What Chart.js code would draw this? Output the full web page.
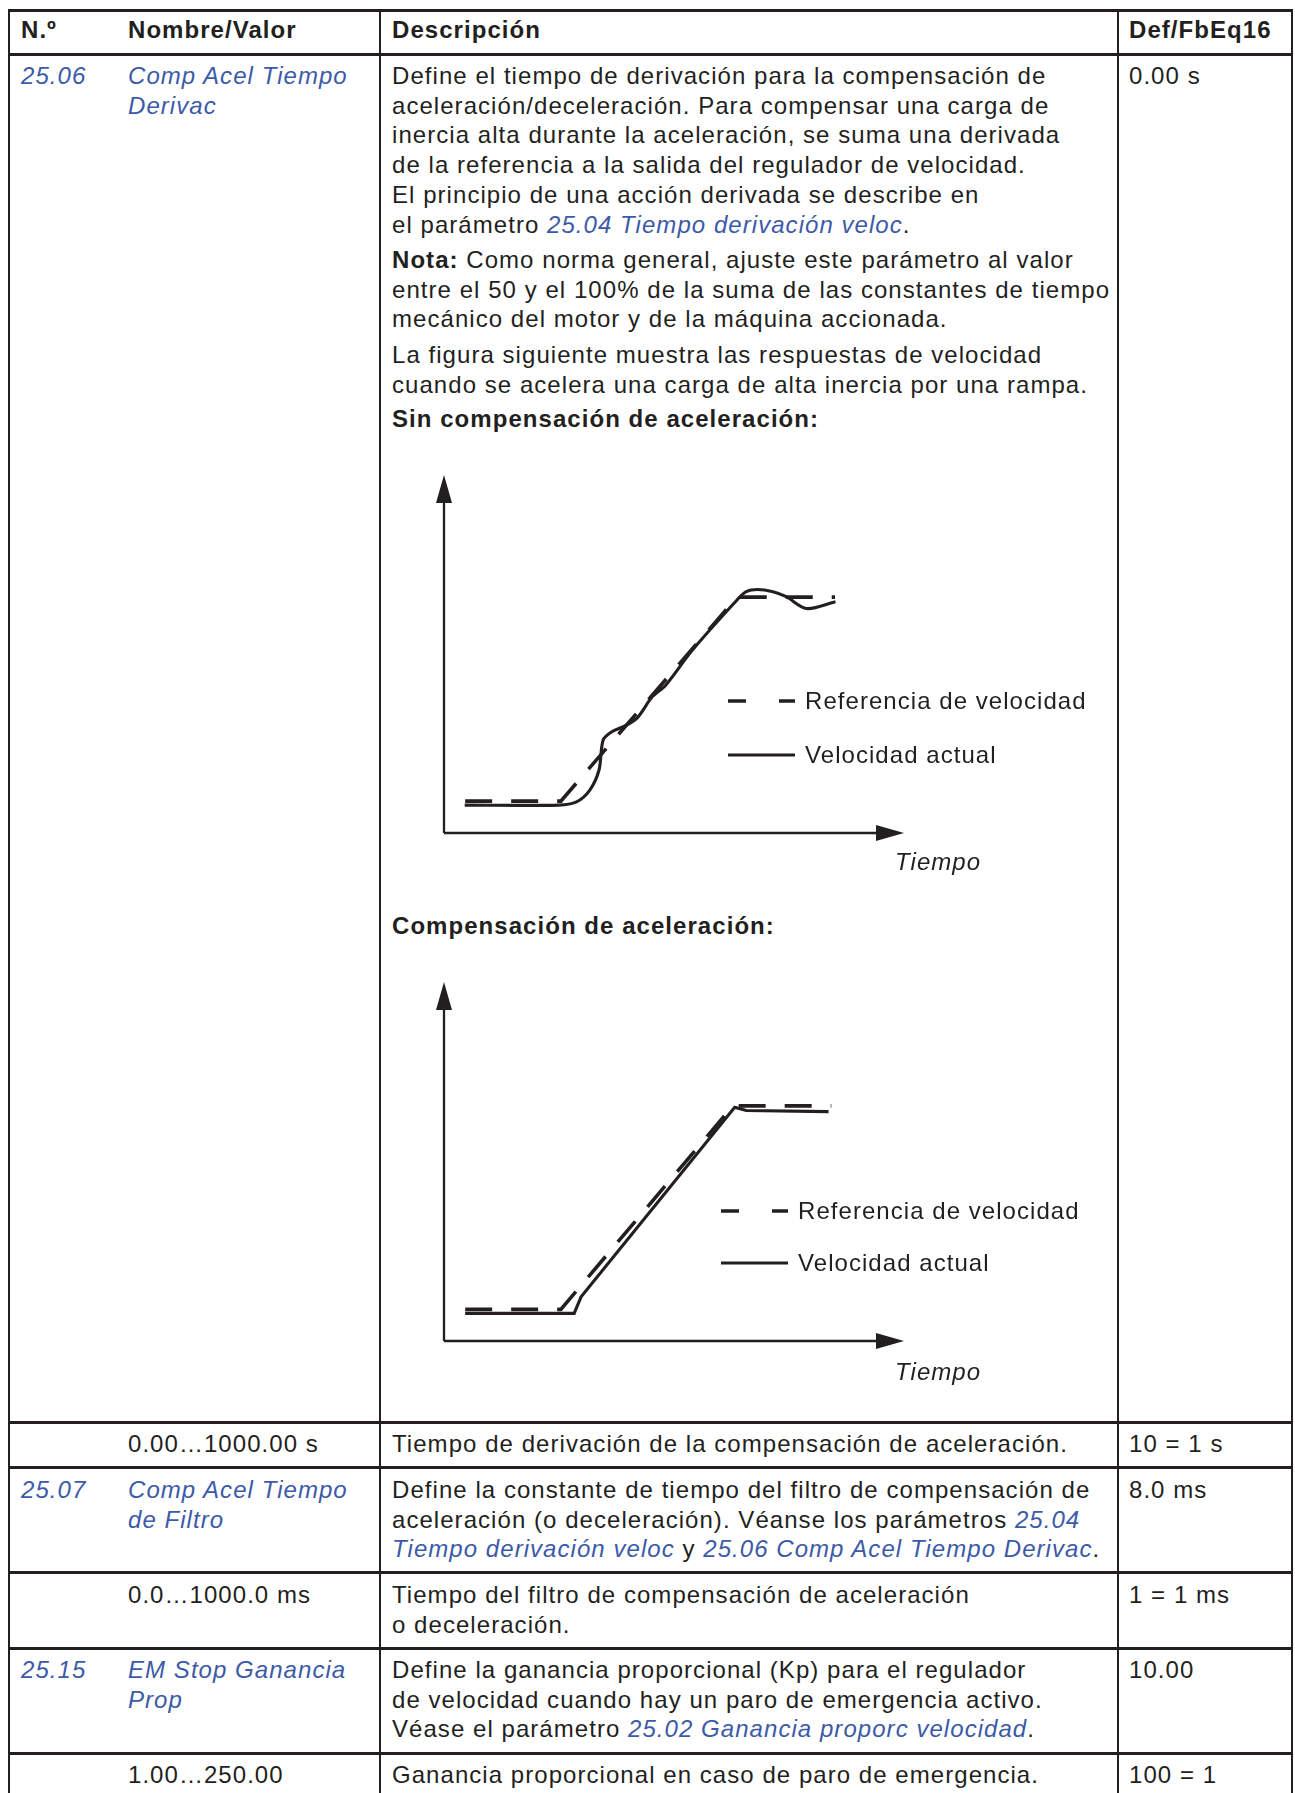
<!DOCTYPE html>
<html>
<head>
<meta charset="utf-8">
<script src="https://cdn.jsdelivr.net/npm/chart.js@4.4.0/dist/chart.umd.min.js"></script>
<style>
  html, body { margin: 0; padding: 0; background: #fff; }
  body { width: 1295px; height: 1793px; position: relative; overflow: hidden;
         font-family: "Liberation Sans", Arial, sans-serif; font-size: 24px;
         letter-spacing: 1.05px; color: #231f20; }
  .t { position: absolute; line-height: 29.8px; white-space: nowrap; }
  .b { font-weight: bold; }
  .lnk, .l { color: #3c5aa8; font-style: italic; }
  .h { position: absolute; left: 8px; width: 1285px; height: 3px; background: #231f20; }
  .v { position: absolute; top: 9px; width: 2px; height: 1784px; background: #231f20; }
  canvas { position: absolute; }
</style>
</head>
<body>

<!-- table rules -->
<div class="h" style="top:9px"></div>
<div class="h" style="top:53px"></div>
<div class="h" style="top:1421px"></div>
<div class="h" style="top:1466px"></div>
<div class="h" style="top:1571px"></div>
<div class="h" style="top:1647px"></div>
<div class="h" style="top:1752px"></div>
<div class="v" style="left:8px"></div>
<div class="v" style="left:379px"></div>
<div class="v" style="left:1117px"></div>
<div class="v" style="left:1291px"></div>

<!-- header -->
<div class="t b" style="left:21px;top:14.8px">N.º</div>
<div class="t b" style="left:128px;top:14.8px">Nombre/Valor</div>
<div class="t b" style="left:392px;top:14.8px">Descripción</div>
<div class="t b" style="left:1129px;top:14.8px">Def/FbEq16</div>

<!-- 25.06 -->
<div class="t l" style="left:21px;top:60.8px">25.06</div>
<div class="t l" style="left:128px;top:60.8px">Comp Acel Tiempo<br>Derivac</div>
<div class="t" style="left:392px;top:60.8px">Define el tiempo de derivación para la compensación de<br>aceleración/deceleración. Para compensar una carga de<br>inercia alta durante la aceleración, se suma una derivada<br>de la referencia a la salida del regulador de velocidad.<br>El principio de una acción derivada se describe en<br>el parámetro <span class="lnk">25.04 Tiempo derivación veloc</span>.</div>
<div class="t" style="left:392px;top:244.8px"><span class="b">Nota:</span> Como norma general, ajuste este parámetro al valor<br>entre el 50 y el 100% de la suma de las constantes de tiempo<br>mecánico del motor y de la máquina accionada.</div>
<div class="t" style="left:392px;top:339.8px">La figura siguiente muestra las respuestas de velocidad<br>cuando se acelera una carga de alta inercia por una rampa.</div>
<div class="t b" style="left:392px;top:403.8px">Sin compensación de aceleración:</div>
<div class="t b" style="left:392px;top:910.8px">Compensación de aceleración:</div>
<div class="t" style="left:1129px;top:60.8px">0.00 s</div>

<canvas id="chart1" width="733" height="450" style="left:383px;top:438px"></canvas>
<canvas id="chart2" width="733" height="450" style="left:383px;top:945px"></canvas>

<!-- 0.00…1000.00 s -->
<div class="t" style="left:128px;top:1428.8px">0.00…1000.00 s</div>
<div class="t" style="left:392px;top:1428.8px">Tiempo de derivación de la compensación de aceleración.</div>
<div class="t" style="left:1129px;top:1428.8px">10 = 1 s</div>

<!-- 25.07 -->
<div class="t l" style="left:21px;top:1474.8px">25.07</div>
<div class="t l" style="left:128px;top:1474.8px">Comp Acel Tiempo<br>de Filtro</div>
<div class="t" style="left:392px;top:1474.8px">Define la constante de tiempo del filtro de compensación de<br>aceleración (o deceleración). Véanse los parámetros <span class="lnk">25.04</span><br><span class="lnk">Tiempo derivación veloc</span> y <span class="lnk">25.06 Comp Acel Tiempo Derivac</span>.</div>
<div class="t" style="left:1129px;top:1474.8px">8.0 ms</div>

<!-- 0.0…1000.0 ms -->
<div class="t" style="left:128px;top:1579.8px">0.0…1000.0 ms</div>
<div class="t" style="left:392px;top:1579.8px">Tiempo del filtro de compensación de aceleración<br>o deceleración.</div>
<div class="t" style="left:1129px;top:1579.8px">1 = 1 ms</div>

<!-- 25.15 -->
<div class="t l" style="left:21px;top:1654.8px">25.15</div>
<div class="t l" style="left:128px;top:1654.8px">EM Stop Ganancia<br>Prop</div>
<div class="t" style="left:392px;top:1654.8px">Define la ganancia proporcional (Kp) para el regulador<br>de velocidad cuando hay un paro de emergencia activo.<br>Véase el parámetro <span class="lnk">25.02 Ganancia proporc velocidad</span>.</div>
<div class="t" style="left:1129px;top:1654.8px">10.00</div>

<!-- 1.00…250.00 -->
<div class="t" style="left:128px;top:1759.8px">1.00…250.00</div>
<div class="t" style="left:392px;top:1759.8px">Ganancia proporcional en caso de paro de emergencia.</div>
<div class="t" style="left:1129px;top:1759.8px">100 = 1</div>

<script>
// series labels
const seriesLabels = ["Referencia de velocidad", "Velocidad actual"];
const xTitle = "Tiempo";

// Sin compensación de aceleración (time and speed in % of axis length)
const refTime1 = [4.6, 25.4, 63.7, 85.0];
const refSpeed1 = [8.9, 8.9, 65.9, 65.9];
const actTime1 = [4.5, 24.9, 28.8, 31.7, 33.7, 34.6, 36.5, 39.0, 41.9, 45.3, 48.2, 54.0, 63.7, 65.7, 68.1, 71.5, 74.4, 78.8, 85.1];
const actSpeed1 = [7.8, 7.8, 8.7, 12.0, 17.6, 26.0, 28.3, 29.7, 32.0, 38.1, 41.3, 51.1, 65.1, 67.4, 68.0, 67.4, 66.0, 62.7, 64.6];

// Compensación de aceleración
const refTime2 = [4.6, 25.4, 62.8, 84.2];
const refSpeed2 = [8.8, 8.8, 65.5, 65.5];
const actTime2 = [4.6, 28.3, 29.8, 63.2, 65.7, 83.6];
const actSpeed2 = [7.7, 7.7, 12.3, 65.1, 64.2, 63.9];

const ink = "#231f20";
const font = '"Liberation Sans", Arial, sans-serif';

function pts(xs, ys) {
  return xs.map((x, i) => ({ x: x, y: ys[i] }));
}

// axes with arrow heads + "Tiempo"
const axisArrows = {
  id: "axisArrows",
  beforeDatasetsDraw(chart, args, opts) {
    const ctx = chart.ctx;
    const a = chart.chartArea;
    ctx.save();
    ctx.strokeStyle = ink;
    ctx.fillStyle = ink;
    ctx.lineWidth = 2.3;
    ctx.beginPath();
    ctx.moveTo(a.left, a.bottom);
    ctx.lineTo(a.left, a.top + 26);
    ctx.moveTo(a.left, a.bottom);
    ctx.lineTo(a.right - 26, a.bottom);
    ctx.stroke();
    ctx.beginPath();
    ctx.moveTo(a.left, a.top);
    ctx.lineTo(a.left - 8, a.top + 28);
    ctx.lineTo(a.left + 8, a.top + 28);
    ctx.closePath();
    ctx.moveTo(a.right, a.bottom);
    ctx.lineTo(a.right - 28, a.bottom - 8);
    ctx.lineTo(a.right - 28, a.bottom + 8);
    ctx.closePath();
    ctx.fill();
    ctx.font = "italic 24px " + font;
    if ("letterSpacing" in ctx) ctx.letterSpacing = "1.05px";
    ctx.textBaseline = "middle";
    ctx.fillText(opts.title, a.right + opts.dx, a.bottom + opts.dy);
    ctx.restore();
  }
};

// legend drawn inside the plot
const lineLegend = {
  id: "lineLegend",
  afterDatasetsDraw(chart, args, opts) {
    const ctx = chart.ctx;
    const a = chart.chartArea;
    ctx.save();
    ctx.font = "24px " + font;
    if ("letterSpacing" in ctx) ctx.letterSpacing = "1.05px";
    ctx.textBaseline = "middle";
    ctx.fillStyle = ink;
    chart.data.datasets.forEach((ds, i) => {
      const x = a.left + opts.x;
      const y = a.top + opts.y + i * opts.gap;
      ctx.strokeStyle = ink;
      ctx.lineWidth = ds.borderWidth;
      ctx.setLineDash(ds.borderDash && ds.borderDash.length ? [18, 33] : []);
      ctx.beginPath();
      ctx.moveTo(x, y);
      ctx.lineTo(x + 67, y);
      ctx.stroke();
      ctx.setLineDash([]);
      ctx.fillText(ds.label, x + 77, y + 1);
    });
    ctx.restore();
  }
};

function makeChart(id, ref, act, tension, legendPos, titlePos, pad) {
  return new Chart(document.getElementById(id), {
    type: "line",
    data: {
      datasets: [
        {
          label: seriesLabels[0],
          data: ref,
          borderColor: ink,
          borderWidth: 3.6,
          borderDash: [27, 19],
          fill: false,
          tension: 0,
        },
        {
          label: seriesLabels[1],
          data: act,
          borderColor: ink,
          borderWidth: 3.1,
          fill: false,
          tension: tension,
        },
      ],
    },
    options: {
      responsive: false,
      animation: false,
      devicePixelRatio: 1,
      layout: { padding: pad },
      elements: { point: { radius: 0 } },
      scales: {
        x: { type: "linear", min: 0, max: 100, display: false },
        y: { min: 0, max: 100, display: false },
      },
      plugins: {
        legend: { display: false },
        tooltip: { enabled: false },
        axisArrows: { title: xTitle, dx: titlePos[0], dy: titlePos[1] },
        lineLegend: { x: legendPos[0], y: legendPos[1], gap: legendPos[2] },
      },
    },
    plugins: [axisArrows, lineLegend],
  });
}

makeChart("chart1", pts(refTime1, refSpeed1), pts(actTime1, actSpeed1), 0.3,
  [284, 226, 54], [-9, 30], { left: 61, right: 212, top: 37, bottom: 55 });
makeChart("chart2", pts(refTime2, refSpeed2), pts(actTime2, actSpeed2), 0,
  [277, 229, 52], [-9, 32], { left: 61, right: 212, top: 37, bottom: 54 });
</script>
</body>
</html>
